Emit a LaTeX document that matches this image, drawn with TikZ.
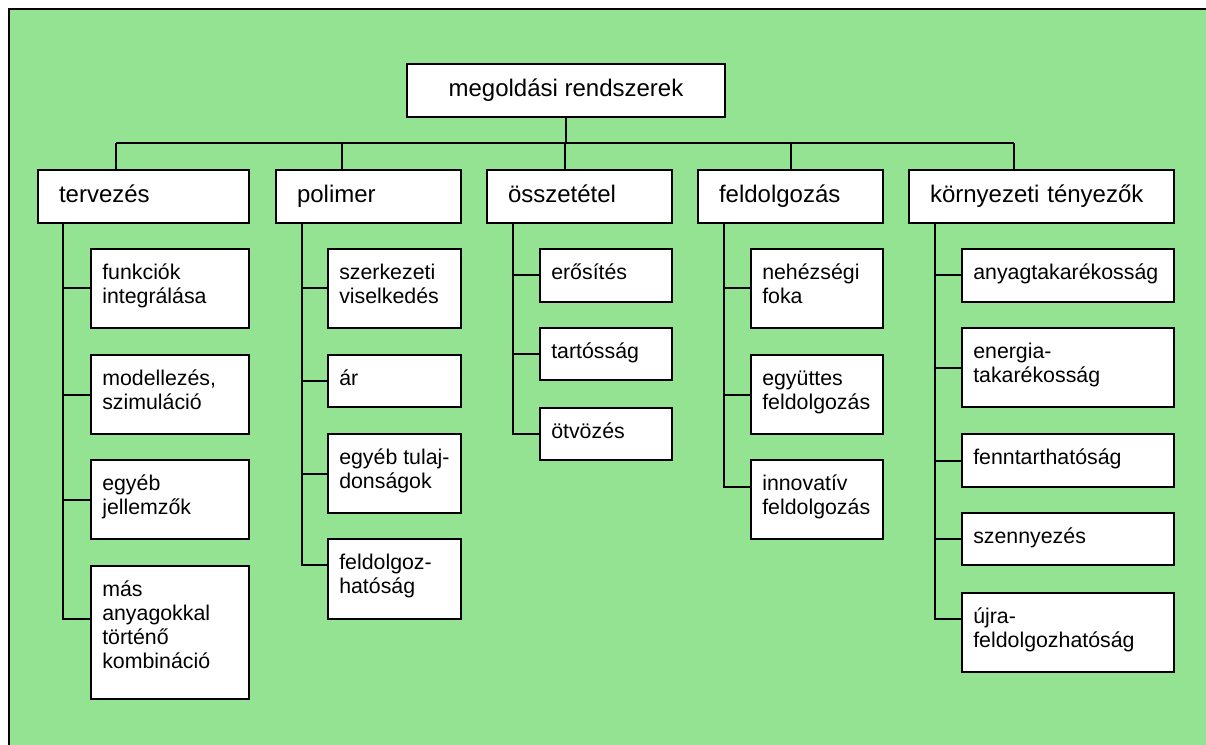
\documentclass[tikz,border=0pt]{standalone}
\usepackage{fontspec}
\setmainfont{Liberation Sans}
\definecolor{bggreen}{RGB}{147,227,147}
\tikzset{
  frameline/.style={draw=black, line width=1.5pt},
  boxst/.style={draw=black, line width=1.5pt, fill=white, anchor=north west, inner sep=0pt},
  ctext/.style={anchor=north west, inner sep=0pt, align=left, font=\fontsize{16}{18}\selectfont},
  lbox/.style={draw=black, line width=1.5pt, fill=white, anchor=north west, inner ysep=0pt, inner xsep=15.75pt, align=left, font=\fontsize{18}{21.6}\selectfont},
  conn/.style={draw=black, line width=1.5pt}
}
% name, x, y, w, h, text
\newcommand\cbx[6]{%
  \node[boxst, minimum width={#4*0.75pt}, minimum height={#5*0.75pt}] (#1) at (#2,#3) {};
  \node[ctext] (#1t) at ([shift={(12,14.2)}]#1.north west) {\strut #6};}
% name, x, y, textwidth(pt), text
\newcommand\lbx[5]{%
  \node[lbox, minimum height={53*0.75pt}, text width=#4] (#1) at (#2,#3) {\strut #5};}
\begin{document}
\begin{tikzpicture}[x=0.75pt,y=-0.75pt]
\useasboundingbox (0,0) rectangle (1206,745);
\clip (0,0) rectangle (1206,745);
\fill[white] (0,0) rectangle (1206,745);
\fill[bggreen] (9,9) rectangle (1206,745);
\draw[frameline] (9,745) -- (9,9) -- (1206,9);

% root
\node[boxst, minimum width={318*0.75pt}, minimum height={53*0.75pt}, font=\fontsize{18}{21.6}\selectfont] (root) at (406,63) {\strut megoldási rendszerek};

% level 1
\lbx{La}{37}{169}{126.75pt}{tervezés}
\lbx{Lb}{275}{169}{107.25pt}{polimer}
\lbx{Lc}{486}{169}{107.25pt}{összetétel}
\lbx{Ld}{697}{169}{107.25pt}{feldolgozás}
\lbx{Le}{908}{169}{167.25pt}{környezeti tényezők}

% bar
\coordinate (ja) at (116,143);
\coordinate (jb) at (342,143);
\coordinate (jc) at (565,143);
\coordinate (jd) at (791,143);
\coordinate (je) at (1014,143);
\draw[conn] (root.south) -- (root.south |- jc);
\draw[conn] (ja) -- (je);
\foreach \n in {a,b,c,d,e} { \draw[conn] (j\n) -- (j\n |- L\n.north); }

% children tervezes
\cbx{a1}{90}{248}{158}{79}{funkciók\\integrálása}
\cbx{a2}{90}{354}{158}{79}{modellezés,\\szimuláció}
\cbx{a3}{90}{459}{158}{79}{egyéb\\jellemzők}
\cbx{a4}{90}{565}{158}{133}{más\\anyagokkal\\történő\\kombináció}
% polimer
\cbx{b1}{327}{248}{133}{79}{szerkezeti\\viselkedés}
\cbx{b2}{327}{354}{133}{52}{ár}
\cbx{b3}{327}{433}{133}{79}{egyéb tulaj-\\donságok}
\cbx{b4}{327}{538}{133}{80}{feldolgoz-\\hatóság}
% osszetetel
\cbx{c1}{539}{248}{132}{53}{erősítés}
\cbx{c2}{539}{327}{132}{52}{tartósság}
\cbx{c3}{539}{407}{132}{52}{ötvözés}
% feldolgozas
\cbx{d1}{750}{248}{132}{79}{nehézségi\\foka}
\cbx{d2}{750}{354}{132}{79}{együttes\\feldolgozás}
\cbx{d3}{750}{459}{132}{79}{innovatív\\feldolgozás}
% kornyezeti
\cbx{e1}{961}{248}{212}{53}{anyagtakarékosság}
\cbx{e2}{961}{327}{212}{79}{energia-\\takarékosság}
\cbx{e3}{961}{433}{212}{53}{fenntarthatóság}
\cbx{e4}{961}{512}{212}{52}{szennyezés}
\cbx{e5}{961}{592}{212}{79}{újra-\\feldolgozhatóság}

% trunks
\coordinate (ta) at (63,0);
\coordinate (tb) at (302,0);
\coordinate (tc) at (513,0);
\coordinate (td) at (724,0);
\coordinate (te) at (935,0);

\draw[conn] (ta |- La.south) |- ([yshift=10pt]a4.west);
\foreach \c in {a1,a2,a3} { \draw[conn] (ta |- \c.west) -- (\c.west); }

\draw[conn] (tb |- Lb.south) |- ([yshift=10.5pt]b4.west);
\foreach \c in {b1,b2,b3} { \draw[conn] (tb |- \c.west) -- (\c.west); }

\draw[conn] (tc |- Lc.south) |- (c3.west);
\foreach \c in {c1,c2} { \draw[conn] (tc |- \c.west) -- (\c.west); }

\draw[conn] (td |- Ld.south) |- ([yshift=9.4pt]d3.west);
\foreach \c in {d1,d2} { \draw[conn] (td |- \c.west) -- (\c.west); }

\draw[conn] (te |- Le.south) |- ([yshift=10pt]e5.west);
\foreach \c in {e1,e2,e3,e4} { \draw[conn] (te |- \c.west) -- (\c.west); }
\end{tikzpicture}
\end{document}
